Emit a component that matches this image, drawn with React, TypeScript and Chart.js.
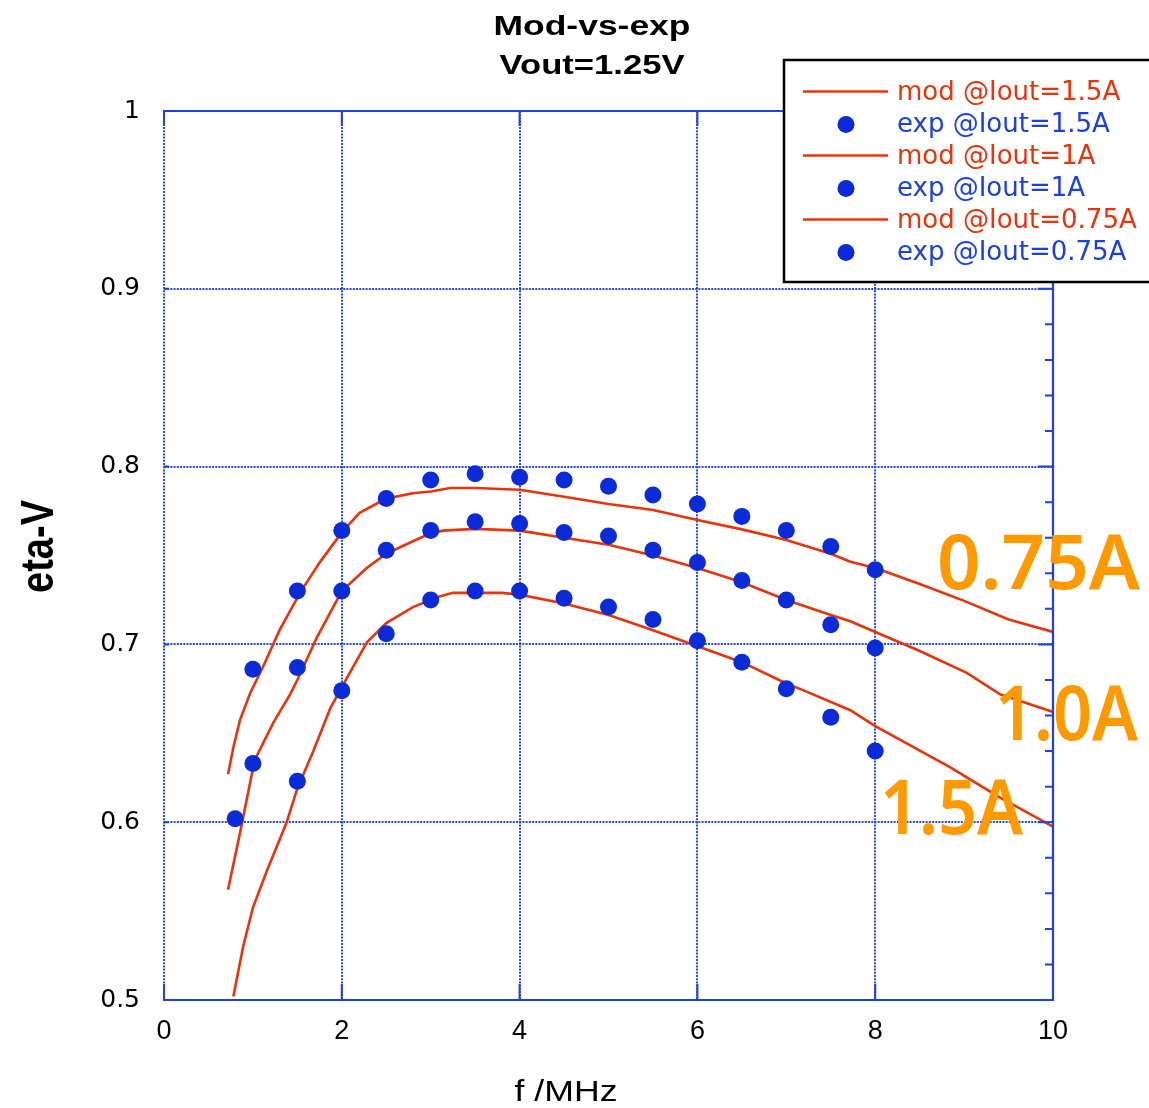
import { useEffect, useRef } from 'react';
import { Chart, registerables } from 'chart.js';

Chart.register(...registerables);

// ---------- data ----------
const titleLines = ['Mod-vs-exp', 'Vout=1.25V'];
const xAxisTitle = 'f /MHz';
const yAxisTitle = 'eta-V';

const xTicks = [0, 2, 4, 6, 8, 10];
const xTickLabels = ['0', '2', '4', '6', '8', '10'];
const yTicks = [0.5, 0.6, 0.7, 0.8, 0.9, 1.0];
const yTickLabels = ['0.5', '0.6', '0.7', '0.8', '0.9', '1'];

const legendLabels = [
  'mod @Iout=1.5A',
  'exp @Iout=1.5A',
  'mod @Iout=1A',
  'exp @Iout=1A',
  'mod @Iout=0.75A',
  'exp @Iout=0.75A',
];
const annotationLabels = ['0.75A', '1.0A', '1.5A'];

// model curves
const modX150 = [0.78, 0.89, 1.0, 1.16, 1.38, 1.5, 1.68, 1.87, 2.0, 2.28, 2.5, 2.8, 3.1, 3.25, 3.5, 3.8, 4.0, 4.5, 5.0, 5.5, 6.0, 6.5, 7.0, 7.2, 7.72, 8.0, 8.84, 9.4, 10.0];
const modY150 = [0.502, 0.530, 0.552, 0.573, 0.600, 0.619, 0.640, 0.664, 0.676, 0.701, 0.712, 0.721, 0.727, 0.729, 0.729, 0.729, 0.728, 0.723, 0.7165, 0.708, 0.699, 0.690, 0.678, 0.674, 0.663, 0.654, 0.631, 0.614, 0.5975];

const modX100 = [0.72, 0.855, 1.0, 1.04, 1.23, 1.42, 1.5, 1.72, 2.0, 2.28, 2.5, 2.8, 3.0, 3.14, 3.5, 4.0, 4.5, 5.0, 5.5, 6.0, 6.5, 7.0, 7.5, 7.72, 8.0, 8.47, 9.03, 9.4, 10.0];
const modY100 = [0.562, 0.594, 0.630, 0.637, 0.656, 0.672, 0.680, 0.704, 0.730, 0.743, 0.751, 0.758, 0.7625, 0.764, 0.765, 0.764, 0.760, 0.756, 0.750, 0.743, 0.735, 0.725, 0.7165, 0.713, 0.707, 0.697, 0.684, 0.672, 0.662];

const modX075 = [0.72, 0.78, 0.855, 0.97, 1.11, 1.3, 1.53, 1.75, 2.0, 2.2, 2.5, 2.8, 3.0, 3.22, 3.5, 4.0, 4.5, 5.0, 5.5, 6.0, 6.5, 7.0, 7.5, 7.72, 8.0, 8.5, 9.0, 9.5, 10.0];
const modY075 = [0.627, 0.642, 0.6575, 0.6727, 0.687, 0.708, 0.729, 0.746, 0.763, 0.774, 0.782, 0.785, 0.786, 0.788, 0.788, 0.787, 0.783, 0.779, 0.7756, 0.770, 0.7647, 0.7587, 0.751, 0.7465, 0.743, 0.734, 0.7245, 0.714, 0.707];

// experimental points
const expX150 = [1.5, 2.0, 2.5, 3.0, 3.5, 4.0, 4.5, 5.0, 5.5, 6.0, 6.5, 7.0, 7.5, 8.0];
const expY150 = [0.623, 0.674, 0.706, 0.725, 0.730, 0.730, 0.726, 0.721, 0.714, 0.702, 0.690, 0.675, 0.659, 0.640];

const expX100 = [0.8, 1.0, 1.5, 2.0, 2.5, 3.0, 3.5, 4.0, 4.5, 5.0, 5.5, 6.0, 6.5, 7.0, 7.5, 8.0];
const expY100 = [0.602, 0.633, 0.687, 0.730, 0.753, 0.764, 0.769, 0.768, 0.763, 0.761, 0.753, 0.746, 0.736, 0.725, 0.711, 0.698];

const expX075 = [1.0, 1.5, 2.0, 2.5, 3.0, 3.5, 4.0, 4.5, 5.0, 5.5, 6.0, 6.5, 7.0, 7.5, 8.0];
const expY075 = [0.686, 0.730, 0.764, 0.782, 0.7925, 0.796, 0.794, 0.7925, 0.789, 0.784, 0.779, 0.772, 0.764, 0.755, 0.742];

// ---------- style ----------
const W = 1149;
const H = 1108;
const RED = '#e8340c';
const BLUE_DOT = '#0b2bd9';
const BLUE_TEXT = '#1b3fe0';
const AXIS_BLUE = '#1f3fe0';
const GRID_BLUE = 'rgba(30,62,228,0.95)';
const ORANGE = '#ff9900';
const SANS = '"Liberation Sans", Arial, Helvetica, sans-serif';
const DEJAVU = '"DejaVu Sans", sans-serif';

const pts = (xs: number[], ys: number[]) => xs.map((x, i) => ({ x, y: ys[i] }));

function fitText(
  ctx: CanvasRenderingContext2D,
  text: string,
  x: number,
  y: number,
  font: string,
  color: string,
  width: number,
  align: CanvasTextAlign,
) {
  ctx.save();
  ctx.font = font;
  ctx.fillStyle = color;
  ctx.textBaseline = 'alphabetic';
  ctx.textAlign = align;
  const w = ctx.measureText(text).width;
  ctx.translate(x, y);
  ctx.scale(width / w, 1);
  ctx.fillText(text, 0, 0);
  ctx.restore();
}

const decorPlugin = {
  id: 'decor',
  afterDraw(chart: any) {
    const ctx: CanvasRenderingContext2D = chart.ctx;
    const { left, right, top, bottom } = chart.chartArea;
    const xs = chart.scales.x;
    const ys = chart.scales.y;

    ctx.save();
    // solid frame on top, right, bottom
    ctx.strokeStyle = AXIS_BLUE;
    ctx.lineWidth = 2.2;
    ctx.beginPath();
    ctx.moveTo(left - 1, top);
    ctx.lineTo(right, top);
    ctx.lineTo(right, bottom);
    ctx.lineTo(left - 1, bottom);
    ctx.stroke();

    // ticks
    ctx.lineWidth = 2;
    ctx.beginPath();
    xTicks.forEach((v) => {
      const px = xs.getPixelForValue(v);
      ctx.moveTo(px, bottom);
      ctx.lineTo(px, bottom - 16);
      ctx.moveTo(px, top);
      ctx.lineTo(px, top + 15);
    });
    yTicks.forEach((v) => {
      const py = ys.getPixelForValue(v);
      ctx.moveTo(right, py);
      ctx.lineTo(right - 15, py);
      ctx.moveTo(left, py);
      ctx.lineTo(left + 5, py);
    });
    for (let k = 0; k <= 25; k++) {
      const v = 0.5 + k * 0.02;
      const py = ys.getPixelForValue(v);
      ctx.moveTo(right, py);
      ctx.lineTo(right - 8, py);
    }
    ctx.stroke();
    ctx.restore();

    // legend
    ctx.save();
    ctx.fillStyle = '#ffffff';
    ctx.fillRect(784, 60, 420, 222);
    ctx.strokeStyle = '#000000';
    ctx.lineWidth = 2.5;
    ctx.strokeRect(784, 60, 420, 222);
    legendLabels.forEach((label, i) => {
      const rowY = 91.5 + i * 32;
      const isMod = i % 2 === 0;
      if (isMod) {
        ctx.strokeStyle = RED;
        ctx.lineWidth = 2.5;
        ctx.beginPath();
        ctx.moveTo(803, rowY);
        ctx.lineTo(888, rowY);
        ctx.stroke();
      } else {
        ctx.fillStyle = BLUE_DOT;
        ctx.beginPath();
        ctx.arc(846, rowY + 1, 8.5, 0, Math.PI * 2);
        ctx.fill();
      }
      ctx.font = `26px ${DEJAVU}`;
      ctx.fillStyle = isMod ? RED : BLUE_TEXT;
      ctx.textAlign = 'left';
      ctx.textBaseline = 'alphabetic';
      ctx.fillText(label, 897, rowY + 8.5);
    });
    ctx.restore();

    // title
    fitText(ctx, titleLines[0], 592, 35, `bold 28px ${SANS}`, '#000', 197, 'center');
    fitText(ctx, titleLines[1], 592, 74, `bold 28px ${SANS}`, '#000', 185, 'center');

    // x axis title
    fitText(ctx, xAxisTitle, 566, 1101, `29px ${SANS}`, '#000', 103, 'center');

    // y axis title (rotated)
    ctx.save();
    ctx.font = `bold 36px ${SANS}`;
    const w = ctx.measureText(yAxisTitle).width;
    ctx.translate(53, 546.5);
    ctx.rotate(-Math.PI / 2);
    ctx.scale(93 / w, 1.28);
    ctx.fillStyle = '#000';
    ctx.textAlign = 'center';
    ctx.textBaseline = 'alphabetic';
    ctx.fillText(yAxisTitle, 0, 0);
    ctx.restore();

    // annotations
    const annFont = `600 76px "Noto Sans", ${SANS}`;
    fitText(ctx, annotationLabels[0], 937, 589, annFont, ORANGE, 203, 'left');
    fitText(ctx, annotationLabels[1], 995, 740, annFont, ORANGE, 143, 'left');
    fitText(ctx, annotationLabels[2], 880, 834, annFont, ORANGE, 143, 'left');
  },
};

export default function App() {
  const ref = useRef<HTMLCanvasElement | null>(null);

  useEffect(() => {
    if (!ref.current) return;
    const lineDs = (data: any[]) => ({
      data,
      showLine: true,
      borderColor: RED,
      backgroundColor: RED,
      borderWidth: 2.6,
      pointRadius: 0,
      tension: 0,
      fill: false,
      order: 2,
    });
    const dotDs = (data: any[]) => ({
      data,
      showLine: false,
      pointRadius: 8.5,
      pointBackgroundColor: BLUE_DOT,
      pointBorderColor: BLUE_DOT,
      pointBorderWidth: 0,
      order: 1,
    });

    const chart = new Chart(ref.current, {
      type: 'scatter',
      data: {
        datasets: [
          lineDs(pts(modX150, modY150)),
          dotDs(pts(expX150, expY150)),
          lineDs(pts(modX100, modY100)),
          dotDs(pts(expX100, expY100)),
          lineDs(pts(modX075, modY075)),
          dotDs(pts(expX075, expY075)),
        ] as any,
      },
      options: {
        responsive: false,
        animation: false,
        devicePixelRatio: 1,
        layout: { padding: { top: 111, right: 96, left: 0, bottom: 0 } },
        plugins: {
          legend: { display: false },
          title: { display: false },
          tooltip: { enabled: false },
        },
        scales: {
          x: {
            type: 'linear',
            min: 0,
            max: 10,
            afterFit: (s: any) => {
              s.height = 108;
            },
            afterBuildTicks: (s: any) => {
              s.ticks = xTicks.map((v) => ({ value: v }));
            },
            ticks: {
              padding: 15,
              color: '#000',
              font: { family: SANS, size: 27 },
              maxRotation: 0,
              callback: (_v: any, i: number) => xTickLabels[i],
            },
            grid: { color: GRID_BLUE, lineWidth: 2, drawTicks: false },
            border: { display: false, dash: [2, 1.2] },
          },
          y: {
            type: 'linear',
            min: 0.5,
            max: 1.0,
            afterFit: (s: any) => {
              s.width = 164;
            },
            afterBuildTicks: (s: any) => {
              s.ticks = yTicks.map((v) => ({ value: v }));
            },
            ticks: {
              padding: 24,
              color: '#000',
              font: { family: DEJAVU, size: 25 },
              callback: (_v: any, i: number) => yTickLabels[i],
            },
            grid: { color: GRID_BLUE, lineWidth: 2, drawTicks: false },
            border: { display: false, dash: [2, 1.2] },
          },
        },
      } as any,
      plugins: [decorPlugin],
    });
    return () => chart.destroy();
  }, []);

  return (
    <div style={{ position: 'absolute', left: 0, top: 0, width: W, height: H, background: '#fff' }}>
      <canvas ref={ref} width={W} height={H} style={{ display: 'block', width: W, height: H }} />
    </div>
  );
}
